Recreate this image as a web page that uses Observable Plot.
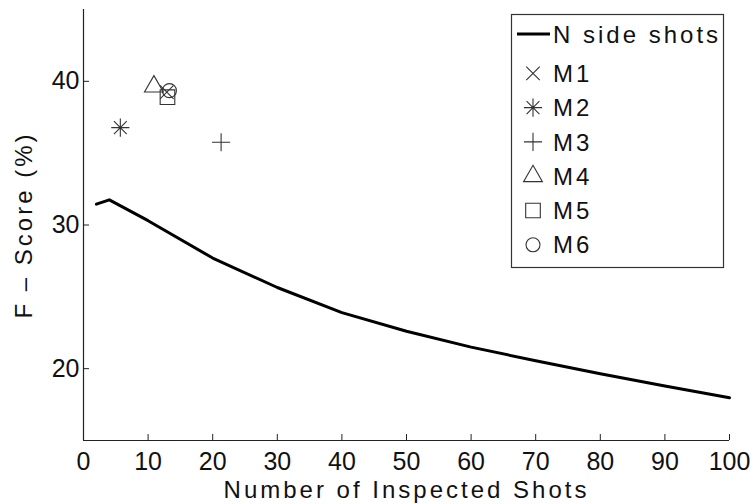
<!DOCTYPE html>
<html>
<head>
<meta charset="utf-8">
<script src="https://cdn.jsdelivr.net/npm/d3@7"></script>
<script src="https://cdn.jsdelivr.net/npm/@observablehq/plot@0.6"></script>
<style>
  body { margin: 0; background: #fff; }
  #chart { position: relative; width: 755px; height: 504px; font-family: Arial, "Liberation Sans", sans-serif; color: #111; }
  #chart svg.legend { position: absolute; left: 0; top: 0; pointer-events: none; }
</style>
</head>
<body>
<div id="chart"></div>
<script>
// ---- data ----
const curveX = [2, 4, 10, 20, 30, 40, 50, 60, 70, 80, 90, 100];
const curveY = [31.45, 31.75, 30.3, 27.7, 25.65, 23.9, 22.6, 21.5, 20.55, 19.65, 18.8, 17.97];
const lineName = "N side shots";

const methods = ["M1", "M2", "M3", "M4", "M5", "M6"];
const methodX = [12.9, 5.7, 21.3, 10.9, 13.0, 13.3];
const methodY = [39.25, 36.78, 35.76, 39.64, 38.9, 39.35];

const xTicks = [0, 10, 20, 30, 40, 50, 60, 70, 80, 90, 100];
const yTicks = [20, 30, 40];
const xDomain = [0, 100];
const yDomain = [15, 45];
const xTitle = "Number of Inspected Shots";
const yTitle = "F \u2013 Score (%)";

// ---- styles ----
const asterisk8 = {
  draw(ctx, size) { d3.symbolPlus.draw(ctx, size); d3.symbolTimes.draw(ctx, size); }
};
const methodStyle = [
  {symbol: d3.symbolTimes, r: 6.2},
  {symbol: asterisk8, r: 5.9},
  {symbol: d3.symbolPlus, r: 5.9},
  {symbol: d3.symbolTriangle2, r: 9},
  {symbol: d3.symbolSquare2, r: 9.3},
  {symbol: d3.symbolCircle, r: 7}
];
const ink = "#222";

const W = 755, H = 504;
const margins = {top: 9, right: 26, bottom: 64, left: 83};

const curve = curveX.map((x, i) => ({x, y: curveY[i]}));
const pts = methods.map((m, i) => ({m, x: methodX[i], y: methodY[i], i}));

const plot = Plot.plot({
  width: W,
  height: H,
  marginTop: margins.top,
  marginRight: margins.right,
  marginBottom: margins.bottom,
  marginLeft: margins.left,
  style: {fontFamily: "Arial, 'Liberation Sans', sans-serif", fontSize: "25px", color: "#111", background: "#fff"},
  x: {domain: xDomain},
  y: {domain: yDomain},
  marks: [
    Plot.ruleX([xDomain[0]], {stroke: ink, strokeWidth: 1.2}),
    Plot.ruleY([yDomain[0]], {stroke: ink, strokeWidth: 1.2}),
    Plot.axisX(xTicks, {tickSize: -6, tickPadding: 18, fontSize: 25, label: null, stroke: ink}),
    Plot.axisY(yTicks, {tickSize: -6, tickPadding: 10, fontSize: 25, label: null, stroke: ink}),
    Plot.line(curve, {x: "x", y: "y", stroke: "#000", strokeWidth: 3, strokeLinejoin: "round"}),
    ...pts.map(p => Plot.dot([p], {
      x: "x", y: "y",
      symbol: methodStyle[p.i].symbol,
      r: methodStyle[p.i].r,
      stroke: "#333", strokeWidth: 1.1, fill: "none"
    })),
    Plot.text([xTitle], {text: d => d, frameAnchor: "bottom", dy: 50, textAnchor: "middle", lineAnchor: "middle", fontSize: 24, fill: "#111"}),
    Plot.text([yTitle], {text: d => d, frameAnchor: "left", dx: -59, rotate: -90, textAnchor: "middle", lineAnchor: "middle", fontSize: 24, fill: "#111"})
  ]
});

// widen the axis titles like the reference
d3.select(plot).selectAll("text")
  .filter(function () { return this.textContent === xTitle || this.textContent === yTitle; })
  .attr("letter-spacing", "3px");

const chart = document.getElementById("chart");
chart.appendChild(plot);

// ---- legend (drawn on top, inside plot area) ----
const lg = d3.create("svg").attr("class", "legend").attr("width", W).attr("height", H);
const box = {x: 511.5, y: 14.5, w: 212, h: 253};
lg.append("rect").attr("x", box.x).attr("y", box.y).attr("width", box.w).attr("height", box.h)
  .attr("fill", "#fff").attr("stroke", "#333").attr("stroke-width", 1.2);
const rowY = [34, 73.3, 107.6, 141.9, 176.2, 210.5, 244.8];
const symX = 533, textX = 553;
lg.append("line").attr("x1", 517).attr("x2", 550).attr("y1", rowY[0]).attr("y2", rowY[0])
  .attr("stroke", "#000").attr("stroke-width", 3);
const labels = [lineName, ...methods];
labels.forEach((t, i) => {
  lg.append("text").attr("x", textX).attr("y", rowY[i] + 8.6)
    .attr("font-family", "Arial, 'Liberation Sans', sans-serif").attr("font-size", 24)
    .attr("letter-spacing", "3px").attr("fill", "#111").text(t);
});
methods.forEach((m, i) => {
  const st = methodStyle[i];
  lg.append("path")
    .attr("transform", `translate(${symX},${rowY[i + 1]})`)
    .attr("d", d3.symbol(st.symbol, Math.PI * st.r * st.r)())
    .attr("fill", "none").attr("stroke", "#333").attr("stroke-width", 1.1);
});
chart.appendChild(lg.node());
</script>
</body>
</html>
